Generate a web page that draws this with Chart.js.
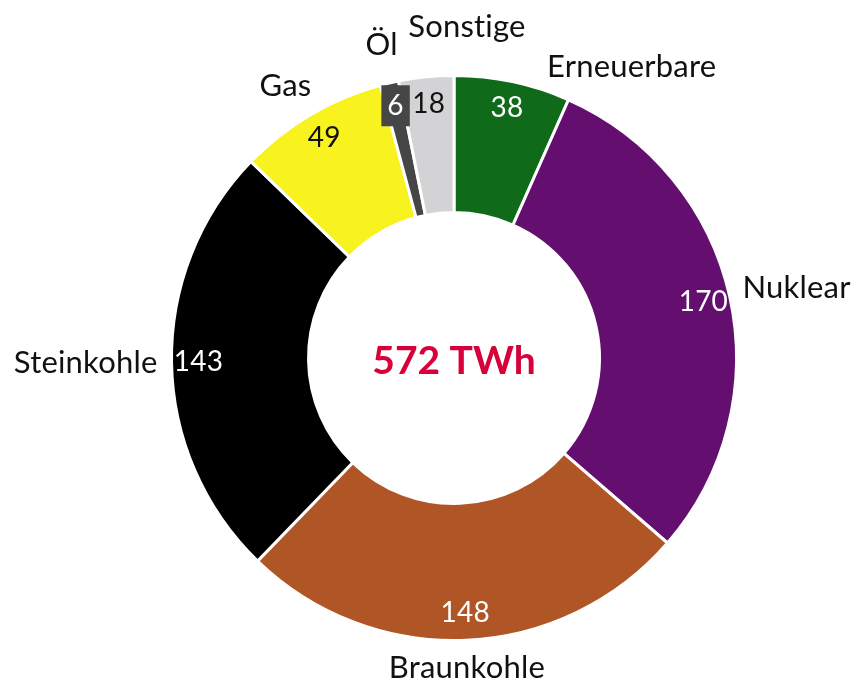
<!DOCTYPE html>
<html><head><meta charset="utf-8">
<script src="https://cdn.jsdelivr.net/npm/chart.js@4/dist/chart.umd.min.js"></script>
<style>html,body{margin:0;padding:0;background:#fff}#wrap{width:856px;height:681px;position:relative}</style>
</head><body><div id="wrap"><canvas id="c" width="856" height="681"></canvas></div>
<script>
const categories = ["Erneuerbare","Nuklear","Braunkohle","Steinkohle","Gas","Öl","Sonstige"];
const values = [38,170,148,143,49,6,18];
const totalLabel = "572 TWh";
const colors = ["#0f6b1a","#640f70","#b05525","#000000","#f8f31e","#464646","#d3d3d5"];
const valueTextColors = ["#fff","#fff","#fff","#fff","#111","#fff","#111"];
const FONT = "Lato";

const labelTweaks = [ {dx:32,dy:13}, {dx:1,dy:-6}, {dx:0,dy:0}, {dx:-2,dy:0}, {dx:7,dy:-3}, {dx:11,dy:-11}, {dx:42,dy:-22} ];

const labelPlugin = {
  id:'labels',
  afterDatasetsDraw(chart){
    const ctx = chart.ctx;
    const meta = chart.getDatasetMeta(0);
    ctx.save();
    try { ctx.letterSpacing = '0.2px'; } catch(e) {}
    meta.data.forEach((arc,i)=>{
      const p = arc.getProps(['x','y','startAngle','endAngle','outerRadius','innerRadius'],true);
      const mid = (p.startAngle+p.endAngle)/2;
      const c = Math.cos(mid), s = Math.sin(mid);
      // value label
      const rv = p.outerRadius - 27;
      const vx = p.x + rv*c, vy = p.y + rv*s;
      ctx.font = "28px "+FONT;
      ctx.textAlign='center'; ctx.textBaseline='middle';
      const txt = String(values[i]);
      if (i===5){
        const w = ctx.measureText(txt).width + 12;
        ctx.fillStyle = colors[i];
        ctx.fillRect(vx-w/2, vy-20-4, w, 41);
        ctx.fillStyle = '#fff';
        ctx.fillText(txt, vx, vy-3);
      } else {
        ctx.fillStyle = valueTextColors[i];
        ctx.fillText(txt, vx, vy);
      }
      // category label
      const ro = p.outerRadius + 12;
      const lx = p.x + ro*c + labelTweaks[i].dx, ly = p.y + ro*s + labelTweaks[i].dy;
      ctx.font = "31px "+FONT;
      ctx.fillStyle = '#111';
      ctx.textAlign = c>0.1 ? 'left' : (c<-0.1 ? 'right' : 'center');
      ctx.textBaseline = s<-0.3 ? 'bottom' : (s>0.3 ? 'top' : 'middle');
      ctx.fillText(categories[i], lx, ly);
    });
    // center
    const a = meta.data[0];
    try { ctx.letterSpacing = '0px'; } catch(e) {}
    ctx.font = "bold 39px "+FONT;
    ctx.fillStyle = '#d7003a';
    ctx.textAlign='center'; ctx.textBaseline='middle';
    ctx.fillText(totalLabel, a.x, a.y+3);
    ctx.restore();
  }
};

new Chart(document.getElementById('c'), {
  type:'doughnut',
  data:{ labels:categories, datasets:[{ data:values, backgroundColor:colors, borderColor:'#fff', borderWidth:3, borderJoinStyle:'miter' }]},
  options:{
    responsive:false, animation:false, cutout:'51.5%',
    layout:{ padding:{ left:170, right:118, top:74, bottom:39 } },
    plugins:{ legend:{display:false}, tooltip:{enabled:false} }
  },
  plugins:[labelPlugin]
});
</script></body></html>
